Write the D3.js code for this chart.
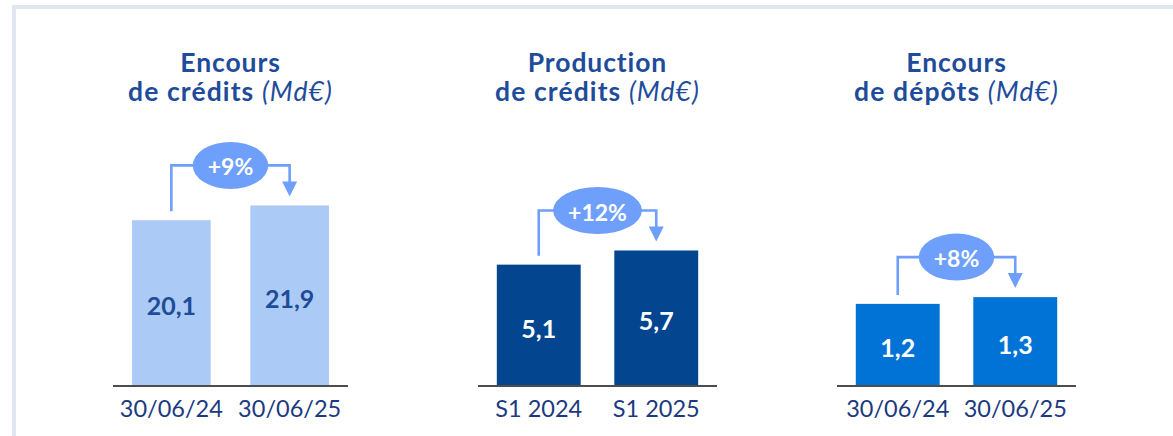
<!DOCTYPE html>
<html>
<head>
<meta charset="utf-8">
<script src="https://cdn.jsdelivr.net/npm/d3@7"></script>
<style>
  html, body { margin: 0; padding: 0; background: #fff; }
  svg { display: block; font-family: Lato, "Open Sans", sans-serif; font-variant-ligatures: none; }
</style>
</head>
<body>
<svg id="chart" width="1173" height="436"></svg>
<script>
// Data
const titleLine1 = ["Encours", "Production", "Encours"];
const titleLine2 = ["de crédits", "de crédits", "de dépôts"];
const unitLabel = "(Md€)";
const periodsCredits = ["30/06/24", "30/06/25"];
const periodsProduction = ["S1 2024", "S1 2025"];
const periodsDepots = ["30/06/24", "30/06/25"];
const encoursCredits = [20.1, 21.9];
const productionCredits = [5.1, 5.7];
const encoursDepots = [1.2, 1.3];
const growthLabels = ["+9%", "+12%", "+8%"];

// Layout and style per panel
const panels = [
  { cats: periodsCredits, vals: encoursCredits, growth: growthLabels[0],
    t1: titleLine1[0], t2: titleLine2[0],
    x0: 113, x1: 348, padIn: 0.335, padOut: 0.161, yMax: 25, yPx: 205,
    fill: "#abcbf6", valColor: "#1f4b98" },
  { cats: periodsProduction, vals: productionCredits, growth: growthLabels[1],
    t1: titleLine1[1], t2: titleLine2[1],
    x0: 478, x1: 717, padIn: 0.286, padOut: 0.16, yMax: 6, yPx: 141.6,
    fill: "#03458f", valColor: "#ffffff" },
  { cats: periodsDepots, vals: encoursDepots, growth: growthLabels[2],
    t1: titleLine1[2], t2: titleLine2[2],
    x0: 837, x1: 1076, padIn: 0.286, padOut: 0.16, yMax: 1.5, yPx: 101.4,
    fill: "#0173d6", valColor: "#ffffff" }
];

const baseY = 385;
const accent = "#6e9ffa";
const titleColor = "#1e4c9b";
const catColor = "#1c3a80";
const fmt = v => d3.format(".1f")(v).replace(".", ",");

const svg = d3.select("#chart");

// Outer frame
svg.append("rect")
  .attr("x", 14).attr("y", 7)
  .attr("width", 1300).attr("height", 600)
  .attr("fill", "none")
  .attr("stroke", "#e0e7f2")
  .attr("stroke-width", 4);

panels.forEach(p => {
  const g = svg.append("g");
  const x = d3.scaleBand().domain(p.cats).range([p.x0, p.x1])
    .paddingInner(p.padIn).paddingOuter(p.padOut);
  const y = d3.scaleLinear().domain([0, p.yMax]).range([baseY, baseY - p.yPx]);
  const cx = (p.x0 + p.x1) / 2;

  // Title
  g.append("text")
    .attr("x", cx).attr("y", 72)
    .attr("text-anchor", "middle")
    .attr("fill", titleColor)
    .attr("font-size", 26.5).attr("font-weight", 700)
    .attr("letter-spacing", 0.9)
    .text(p.t1);
  const t2 = g.append("text")
    .attr("x", cx).attr("y", 101)
    .attr("text-anchor", "middle")
    .attr("fill", titleColor)
    .attr("font-size", 26.5)
    .attr("letter-spacing", 1.1);
  t2.append("tspan").attr("font-weight", 700).text(p.t2 + " ");
  t2.append("tspan").attr("font-style", "italic").attr("font-weight", 400).text(unitLabel);

  const rows = p.cats.map((c, i) => ({ c, v: p.vals[i] }));

  // Bars
  g.selectAll("rect.bar").data(rows).join("rect")
    .attr("class", "bar")
    .attr("x", d => x(d.c))
    .attr("width", x.bandwidth())
    .attr("y", d => y(d.v))
    .attr("height", d => baseY - y(d.v))
    .attr("fill", p.fill);

  // Value labels
  g.selectAll("text.val").data(rows).join("text")
    .attr("class", "val")
    .attr("x", d => x(d.c) + x.bandwidth() / 2)
    .attr("y", d => (y(d.v) + baseY) / 2 + 4)
    .attr("dy", "0.35em")
    .attr("text-anchor", "middle")
    .attr("fill", p.valColor)
    .attr("font-size", 25).attr("font-weight", 700)
    .text(d => fmt(d.v));

  // Baseline axis
  const axis = d3.axisBottom(x).tickSize(0).tickPadding(0);
  const ax = g.append("g").attr("transform", `translate(0,${baseY + 1})`).call(axis);
  ax.select(".domain").attr("d", `M${p.x0},0H${p.x1}`)
    .attr("stroke", "#4d4d4d").attr("stroke-width", 2);
  ax.selectAll(".tick text")
    .attr("y", 31)
    .attr("dy", 0)
    .attr("fill", catColor)
    .attr("font-size", 23.5)
    .attr("font-family", "Lato, 'Open Sans', sans-serif");

  // Growth bracket
  const xa = x(p.cats[0]) + x.bandwidth() / 2;
  const xb = x(p.cats[1]) + x.bandwidth() / 2;
  const ya = y(p.vals[0]) - 9;
  const yb = y(p.vals[1]) - 9;
  const yTop = Math.min(y(p.vals[0]), y(p.vals[1])) - 40;
  const head = 15;
  g.append("path")
    .attr("d", `M${xa},${ya}V${yTop}H${xb}V${yb - head + 1}`)
    .attr("fill", "none")
    .attr("stroke", accent)
    .attr("stroke-width", 2.6);
  g.append("path")
    .attr("d", `M${xb - 7.5},${yb - head}H${xb + 7.5}L${xb},${yb}Z`)
    .attr("fill", accent);

  const mid = (xa + xb) / 2;
  const lbl = g.append("text")
    .attr("x", mid).attr("y", yTop + 2)
    .attr("dy", "0.35em")
    .attr("text-anchor", "middle")
    .attr("fill", "#ffffff")
    .attr("font-size", 23).attr("font-weight", 700)
    .text(p.growth);
  const w = lbl.node().getComputedTextLength();
  g.insert("ellipse", () => lbl.node())
    .attr("cx", mid).attr("cy", yTop)
    .attr("rx", w / 2 + 15).attr("ry", 23.5)
    .attr("fill", accent);
});
</script>
</body>
</html>
